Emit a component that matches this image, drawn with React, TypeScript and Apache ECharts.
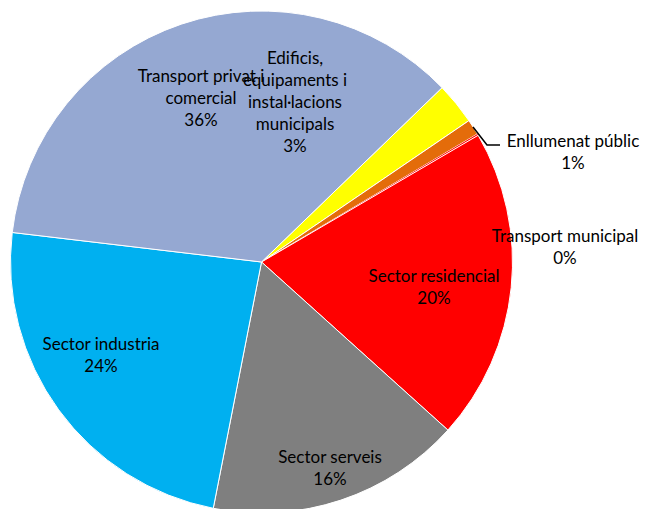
import React, { useEffect, useRef } from "react";
import * as echarts from "echarts";

const CATEGORIES = [
  "Edificis,\nequipaments i\ninstal·lacions\nmunicipals",
  "Enllumenat públic",
  "Transport municipal",
  "Sector residencial",
  "Sector serveis",
  "Sector industria",
  "Transport privat i\ncomercial",
];
const VALUES = [2.7, 1.0, 0.1, 20.1, 16.4, 23.8, 35.9];
const COLORS = ["#FFFF00", "#E46C0A", "#FF0000", "#FF0000", "#7F7F7F", "#00B0F0", "#95A8D2"];
// label block centres (layout, not data)
const LABEL_POS: [number, number][] = [
  [295, 101],
  [573, 151],
  [565, 246],
  [434, 286],
  [330, 467],
  [101, 354],
  [201, 97],
];

export default function App() {
  const ref = useRef<HTMLDivElement>(null);
  useEffect(() => {
    const chart = echarts.init(ref.current!, undefined, { renderer: "svg" });
    chart.setOption({
      animation: false,
      backgroundColor: "#ffffff",
      series: [
        {
          type: "pie",
          center: [261.5, 262],
          radius: 251,
          startAngle: 44,
          clockwise: true,
          avoidLabelOverlap: false,
          itemStyle: { borderColor: "#ffffff", borderWidth: 1 },
          label: {
            show: true,
            position: "inside",
            color: "#000000",
            fontFamily: "Lato",
            fontSize: 17,
            lineHeight: 22,
            align: "center",
            formatter: (p: any) => p.name + "\n" + Math.round(p.percent) + "%",
          },
          labelLine: { show: false },
          labelLayout: (params: any) => {
            const pos = LABEL_POS[params.dataIndex];
            return { x: pos[0], y: pos[1], align: "center", verticalAlign: "middle" };
          },
          data: CATEGORIES.map((name, i) => ({
            name,
            value: VALUES[i],
            itemStyle: i === 2
              ? { color: COLORS[i], borderWidth: 0 }
              : { color: COLORS[i] },
          })),
        },
      ],
      graphic: [
        {
          type: "polyline",
          shape: { points: [[473, 127], [487, 145], [500, 145]] },
          style: { stroke: "#000000", lineWidth: 1.5, fill: "none" },
          z: 100,
        },
      ],
    });
    return () => chart.dispose();
  }, []);
  return (
    <div
      ref={ref}
      style={{ position: "fixed", left: 0, top: 0, width: 645, height: 509 }}
    />
  );
}
